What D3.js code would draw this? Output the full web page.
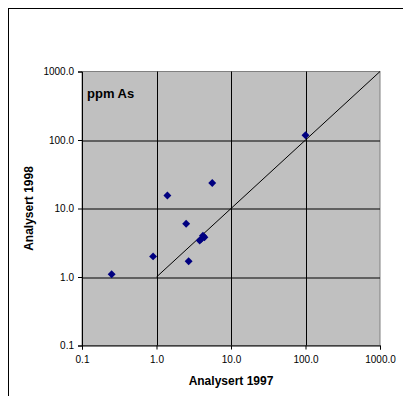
<!DOCTYPE html>
<meta charset="utf-8">
<style>
body { margin: 0; background: #fff; }
svg { font-family: Arial, "Liberation Sans", sans-serif; }
</style>
<svg width="403" height="396"></svg>
<script src="https://d3js.org/d3.v7.min.js"></script>
<script>

// values
var as1997 = [0.25, 0.9, 1.4, 5.6, 2.5, 2.7, 3.8, 4.2, 4.4, 4.0, 100];
var as1998 = [1.1, 2.0, 15.5, 23.5, 6.0, 1.7, 3.4, 4.0, 3.8, 3.6, 117];
var tickValues = [0.1, 1, 10, 100, 1000];
var lineX = [1, 1000],
    lineY = [1, 1000];

var svg = d3.select("svg"),
    margin = {top: 71.5, right: 23, bottom: 50.5, left: 82},
    width = +svg.attr("width") - margin.left - margin.right,
    height = +svg.attr("height") - margin.top - margin.bottom;

// outer chart frame
svg.append("rect")
    .attr("x", 8.5).attr("y", 8.5)
    .attr("width", 420).attr("height", 420)
    .attr("fill", "none").attr("stroke", "#000");

var g = svg.append("g").attr("transform", "translate(" + margin.left + "," + margin.top + ")");

var x = d3.scaleLog().domain([0.1, 1000]).range([0, width]);
var y = d3.scaleLog().domain([0.1, 1000]).range([height, 0]);

g.append("rect")
    .attr("width", width).attr("height", height)
    .attr("fill", "#c0c0c0")
    .attr("stroke", "#808080");

// gridlines
g.selectAll(".gx")
  .data(tickValues.slice(1, -1))
  .enter().append("line")
    .attr("x1", function(d) { return Math.round(x(d)) + 0.5; })
    .attr("x2", function(d) { return Math.round(x(d)) + 0.5; })
    .attr("y1", 0).attr("y2", height)
    .attr("stroke", "#000");

g.selectAll(".gy")
  .data(tickValues.slice(1, -1))
  .enter().append("line")
    .attr("y1", function(d) { return Math.round(y(d)) + 0.5; })
    .attr("y2", function(d) { return Math.round(y(d)) + 0.5; })
    .attr("x1", 0).attr("x2", width)
    .attr("stroke", "#000");

// 1:1 line
g.append("line")
    .attr("x1", x(lineX[0])).attr("y1", y(lineY[0]))
    .attr("x2", x(lineX[1])).attr("y2", y(lineY[1]))
    .attr("stroke", "#000");

var fmt = d3.format(".1f");

g.append("g")
    .attr("transform", "translate(0," + height + ")")
    .call(d3.axisBottom(x).tickValues(tickValues).tickFormat(fmt).tickSizeOuter(0).tickSize(4).tickPadding(6));

g.append("g")
    .call(d3.axisLeft(y).tickValues(tickValues).tickFormat(fmt).tickSizeOuter(0).tickSize(4).tickPadding(4));

g.selectAll(".domain").attr("stroke", "#000");
g.selectAll(".tick text").attr("font-size", 10).attr("font-family", "Arial, 'Liberation Sans', sans-serif").attr("fill", "#000");

// points
g.selectAll(".pt")
  .data(as1997)
  .enter().append("path")
    .attr("d", d3.symbol().type(d3.symbolDiamond2).size(40))
    .attr("transform", function(d, i) { return "translate(" + x(d) + "," + y(as1998[i]) + ")"; })
    .attr("fill", "#000080");

g.append("text")
    .attr("x", 5).attr("y", 26)
    .attr("font-size", 13).attr("font-weight", "bold")
    .text("ppm As");

svg.append("text")
    .attr("x", margin.left + width / 2).attr("y", 385)
    .attr("text-anchor", "middle")
    .attr("font-size", 12).attr("font-weight", "bold")
    .text("Analysert 1997");

svg.append("text")
    .attr("transform", "translate(33," + (margin.top + height / 2) + ") rotate(-90)")
    .attr("text-anchor", "middle")
    .attr("font-size", 12).attr("font-weight", "bold")
    .text("Analysert 1998");

</script>
